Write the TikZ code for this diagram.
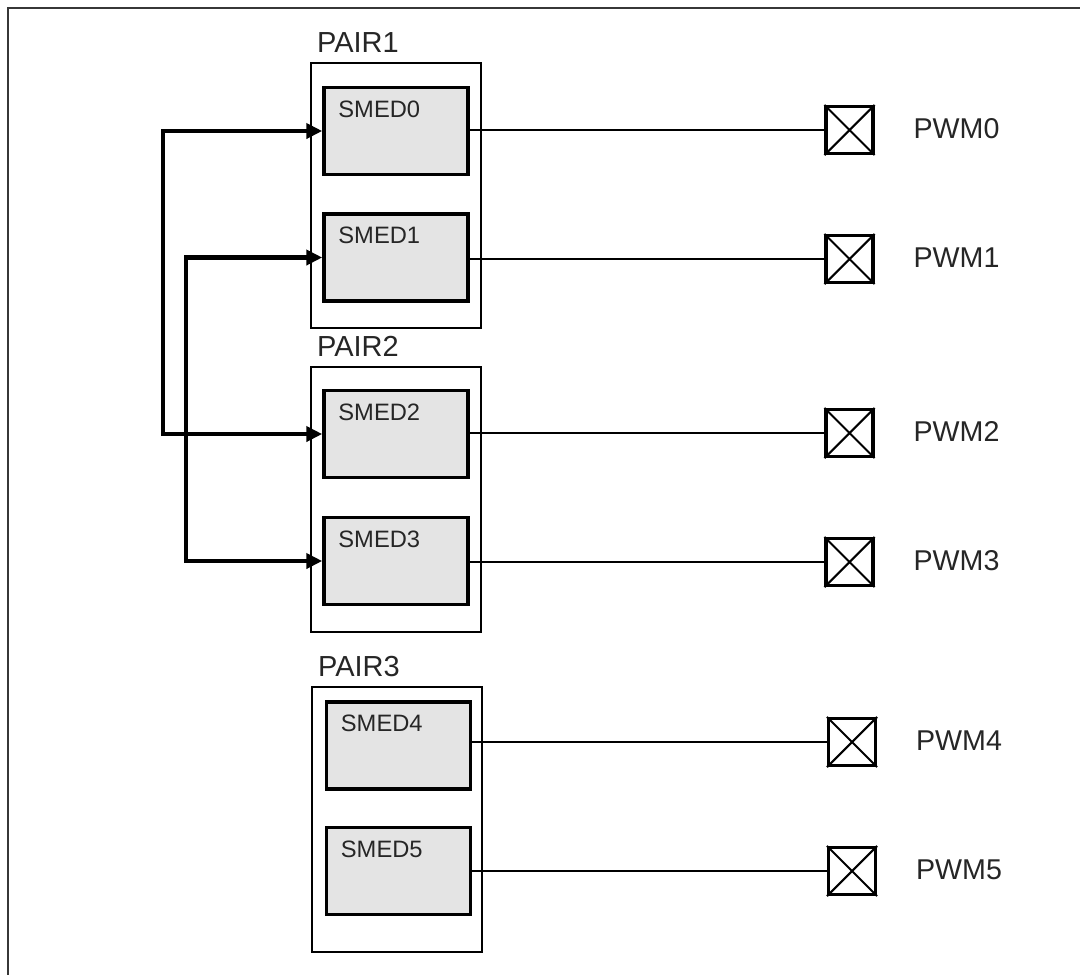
\documentclass[tikz,border=0pt]{standalone}
\usepackage{fontspec}
\setmainfont{Liberation Sans}
\usetikzlibrary{arrows.meta,positioning}
\definecolor{smedgray}{RGB}{228,228,228}
\definecolor{framegray}{RGB}{55,55,55}
\newcommand{\padcross}[1]{\draw[line width=1.2pt] (#1.north west) -- (#1.south east) (#1.north east) -- (#1.south west);}
\tikzset{
  pairbox/.style={draw, line width=1.5pt, minimum width=3.4cm, minimum height=5.3cm, inner sep=0pt},
  smedbox/.style={draw, fill=smedgray, line width=2pt, minimum width=2.88cm, minimum height=1.74cm, inner sep=0pt},
  padbox/.style={draw, fill=white, line width=1.8pt, minimum size=0.94cm, inner sep=0pt},
  smedtext/.style={font=\fontsize{13.5}{15}\selectfont, text=black!85, anchor=base west, inner sep=0pt},
  pairtext/.style={font=\fontsize{16.5}{18}\selectfont, text=black!85, anchor=base west, inner sep=0pt},
  pwmtext/.style={font=\fontsize{16.3}{18}\selectfont, text=black!85, anchor=base west, inner sep=0pt},
  wire/.style={line width=1.1pt},
  thickwire/.style={line width=1.6pt},
  bus/.style={line width=2.4pt, {Triangle[length=3.2mm,width=3mm]}-{Triangle[length=3.2mm,width=3mm]}}
}

\begin{document}
\begin{tikzpicture}[x=0.02cm, y=-0.02cm]
	\useasboundingbox (0,0) rectangle (1080,975);
	\clip (0,0) rectangle (1080,975);
	% frame
	\draw[framegray, line width=1.6pt] (8,1000) -- (8,8) -- (1100,8);

	% pairs
	\node[pairbox] (pair1) at (396,195.5) {};
	\node[pairbox] (pair2) at (396,499.5) {};
	\node[pairbox] (pair3) at (397,819.5) {};
	\node[pairtext] (l1) at ([xshift=4pt,yshift=5pt]pair1.north west) {PAIR1};
	\node[pairtext] (l2) at ([xshift=4pt,yshift=5pt]pair2.north west) {PAIR2};
	\node[pairtext] (l3) at ([xshift=4pt,yshift=5pt]pair3.north west) {PAIR3};

	% SMED units
	\node[smedbox] (s0) at (396,131) {};
	\node[smedbox] (s1) at (396,257.5) {};
	\node[smedbox] (s2) at (396,434) {};
	\node[smedbox] (s3) at (396,561) {};
	\node[smedbox] (s4) at (398.5,745.5) {};
	\node[smedbox] (s5) at (398.5,871) {};
	\node[smedtext] at ([xshift=9pt,yshift=-18pt]s0.north west) {SMED0};
	\node[smedtext] at ([xshift=9pt,yshift=-18pt]s1.north west) {SMED1};
	\node[smedtext] at ([xshift=9pt,yshift=-18pt]s2.north west) {SMED2};
	\node[smedtext] at ([xshift=9pt,yshift=-18pt]s3.north west) {SMED3};
	\node[smedtext] at ([xshift=9pt,yshift=-18pt]s4.north west) {SMED4};
	\node[smedtext] at ([xshift=9pt,yshift=-18pt]s5.north west) {SMED5};

	% PWM pads
	\node[padbox] (p0) at (849.5,130) {};
	\node[padbox] (p1) at (849.5,259) {};
	\node[padbox] (p2) at (849.5,433) {};
	\node[padbox] (p3) at (849.5,562) {};
	\node[padbox] (p4) at (852,742) {};
	\node[padbox] (p5) at (852,871) {};
	\padcross{p0} \padcross{p1} \padcross{p2}
	\padcross{p3} \padcross{p4} \padcross{p5}
	\node[pwmtext] at ([xshift=22pt,yshift=-5pt]p0.east) {PWM0};
	\node[pwmtext] at ([xshift=22pt,yshift=-5pt]p1.east) {PWM1};
	\node[pwmtext] at ([xshift=22pt,yshift=-5pt]p2.east) {PWM2};
	\node[pwmtext] at ([xshift=22pt,yshift=-5pt]p3.east) {PWM3};
	\node[pwmtext] at ([xshift=22pt,yshift=-5pt]p4.east) {PWM4};
	\node[pwmtext] at ([xshift=22pt,yshift=-5pt]p5.east) {PWM5};

	% outputs
	\draw[thickwire] (s0.east |- p0.west) -- (p0.west);
	\draw[wire] (s1.east |- p1.west) -- (p1.west);
	\draw[wire] (s2.east |- p2.west) -- (p2.west);
	\draw[wire] (s3.east |- p3.west) -- (p3.west);
	\draw[thickwire] (s4.east |- p4.west) -- (p4.west);
	\draw[thickwire] (s5.east |- p5.west) -- (p5.west);

	% shared inputs
	\coordinate (busA) at (163,434);
	\coordinate (busB) at (186,561);
	\draw[bus] (s0.west) -| (busA) |- (s2.west);
	\draw[bus] (s1.west) -| (busB) |- (s3.west);
\end{tikzpicture}
\end{document}
